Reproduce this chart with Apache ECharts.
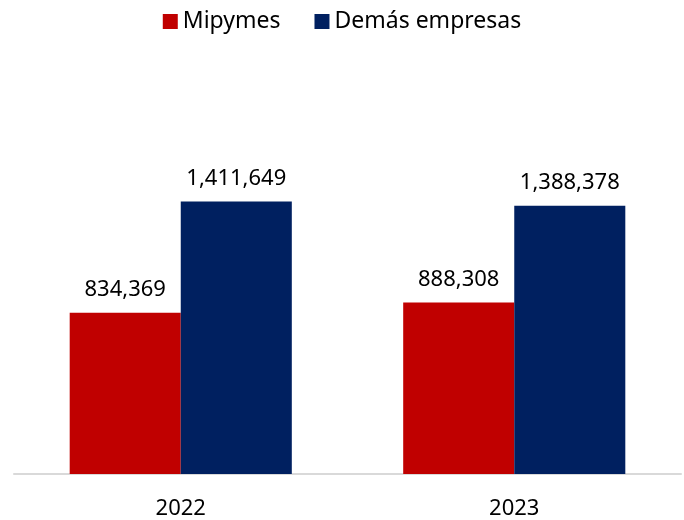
<!DOCTYPE html>
<html>
<head>
<meta charset="utf-8">
<script src="https://cdn.jsdelivr.net/npm/echarts@6/dist/echarts.min.js"></script>
<style>
  html, body { margin: 0; padding: 0; background: #fff; }
  #chart { width: 684px; height: 520px; }
</style>
</head>
<body>
<div id="chart"></div>
<script>
// 数据
const years = ["2022", "2023"]
const mipymes = [834369, 888308]
const demas = [1411649, 1388378]

const myChart = echarts.init(document.getElementById("chart"))
const font = "Noto Sans"
const fmt = (p) => p.value.toLocaleString("en-US")

const option = {
  textStyle: { fontFamily: font },
  legend: {
    top: 5,
    left: "center",
    itemWidth: 15,
    itemHeight: 15,
    itemGap: 34,
    icon: "rect",
    textStyle: { fontSize: 23, color: "#000", fontFamily: font },
    data: ["Mipymes", "Demás empresas"],
  },
  grid: { left: 14, right: 3, top: 165, bottom: 45 },
  xAxis: {
    type: "category",
    data: years,
    axisTick: { show: false },
    axisLine: { lineStyle: { color: "#D9D9D9", width: 2 } },
    axisLabel: { fontSize: 22, color: "#000", margin: 24, fontFamily: font },
  },
  yAxis: { type: "value", min: 0, max: 1600000, show: false, splitLine: { show: false } },
  series: [
    {
      name: "Mipymes",
      type: "bar",
      data: mipymes,
      barWidth: "33.3%",
      barGap: "0%",
      itemStyle: { color: "#C00000" },
      label: { show: true, position: "top", distance: 12, fontSize: 22, color: "#000", formatter: fmt },
    },
    {
      name: "Demás empresas",
      type: "bar",
      data: demas,
      barWidth: "33.3%",
      itemStyle: { color: "#002060" },
      label: { show: true, position: "top", distance: 12, fontSize: 22, color: "#000", formatter: fmt },
    },
  ],
}
myChart.setOption(option)
</script>
</body>
</html>
